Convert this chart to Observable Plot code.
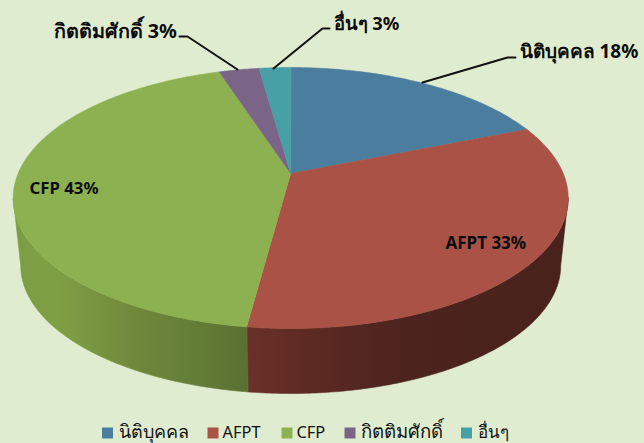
<!DOCTYPE html>
<html>
<head>
<meta charset="utf-8">
<script src="https://cdn.jsdelivr.net/npm/d3@7"></script>
<script src="https://cdn.jsdelivr.net/npm/@observablehq/plot@0.6"></script>
<style>
html,body{margin:0;padding:0;background:#e0ecd0;overflow:hidden}
svg{display:block}
</style>
</head>
<body>
<script>
const categories = ["นิติบุคคล", "AFPT", "CFP", "กิตติมศักดิ์", "อื่นๆ"];
const labelledPercent = [18, 33, 43, 3, 3];
const drawnShares = [18.9, 33.2, 42.9, 2.8, 2.2];
const topColors = ["#4b7d9e", "#a95245", "#8db150", "#7a6488", "#47a0a5"];
const legendSwatchX = [107, 212.5, 286.5, 349.5, 466];
const legendTextX = [118, 222, 296, 360, 477];
const legendFontSize = [18, 16.4, 16.4, 18.6, 17];
const labelX = [519, 445, 29, 53, 333];
const labelY = [51, 243, 188, 31, 24];
const labelFontSize = [19, 17, 16.8, 19.8, 18.4];
const leaders = [
  [[422, 82], [507, 57], [515, 57]],
  null,
  null,
  [[179, 36], [187, 36], [237, 69]],
  [[273, 68], [322, 28], [329, 28]]
];

const W = 644, H = 443;
const topE = {cx: 290.2, cy: 197.5, rx: 277.5, ry: 130.5};
const botE = {cx: 290.2, cy: 265, rx: 270, ry: 128};
const t = 0.188; // perspective shift of the pie's apex
const apex = E => [E.cx, E.cy - E.ry * t];

function project(E, a) {
  const u = Math.sin(a), v = Math.cos(a), w = 1 + t * v;
  return [E.cx + E.rx * u * Math.sqrt(1 - t * t) / w, E.cy - E.ry * (v + t) / w];
}
function arc(E, a0, a1) {
  const n = Math.max(2, Math.ceil(Math.abs(a1 - a0) * 90));
  return d3.range(n + 1).map(i => project(E, a0 + (a1 - a0) * i / n));
}
const total = d3.sum(drawnShares);
const cum = d3.cumsum(drawnShares);
const slices = categories.map((name, i) => ({
  name, color: topColors[i],
  a0: ((i ? cum[i - 1] : 0) / total) * 2 * Math.PI,
  a1: (cum[i] / total) * 2 * Math.PI
}));

const poly = (pts, fill) => Plot.line(pts, {x: d => d[0], y: d => d[1], fill, stroke: fill, strokeWidth: 0.6, curve: "linear-closed"});
const wallFill = ["#37576e", "url(#wallRed)", "url(#wallGreen)", "#54455f", "#317073"];

const defs = () => {
  const ns = "http://www.w3.org/2000/svg";
  const g = document.createElementNS(ns, "g");
  const d = document.createElementNS(ns, "defs");
  const mk = (id, x1, x2, stops) => {
    const lg = document.createElementNS(ns, "linearGradient");
    lg.setAttribute("id", id);
    lg.setAttribute("gradientUnits", "userSpaceOnUse");
    lg.setAttribute("x1", x1); lg.setAttribute("x2", x2);
    lg.setAttribute("y1", 0); lg.setAttribute("y2", 0);
    for (const [o, c] of stops) {
      const s = document.createElementNS(ns, "stop");
      s.setAttribute("offset", o); s.setAttribute("stop-color", c);
      lg.appendChild(s);
    }
    d.appendChild(lg);
  };
  mk("wallGreen", 13, 247, [[0, "#7d9d45"], [0.2, "#7f9f44"], [0.5, "#71893c"], [0.8, "#637c36"], [1, "#5a7030"]]);
  mk("wallRed", 247, 568, [[0, "#6b3029"], [0.2, "#5c2a23"], [0.5, "#4c231d"], [1, "#4a221c"]]);
  g.appendChild(d);
  return g;
};

// Only the front of the rim shows: it runs between the two points where the ellipse is widest.
const rimStart = Math.acos(-t), rimEnd = 2 * Math.PI - rimStart;
const walls = slices.flatMap((s, i) => {
  const a0 = Math.max(s.a0, rimStart), a1 = Math.min(s.a1, rimEnd);
  return a1 > a0 ? [poly([...arc(topE, a0, a1), ...arc(botE, a1, a0)], wallFill[i])] : [];
});
const tops = slices.map(s => poly([apex(topE), ...arc(topE, s.a0, s.a1)], s.color));

const labelRows = categories.map((name, i) => ({text: `${name} ${labelledPercent[i]}%`, x: labelX[i], y: labelY[i], size: labelFontSize[i]}));
const legendRows = categories.map((name, i) => ({name, sx: legendSwatchX[i], tx: legendTextX[i], color: topColors[i], size: legendFontSize[i]}));
const fontFamily = "Tahoma, 'Noto Sans', 'Open Sans', 'DejaVu Sans', sans-serif";

const chart = Plot.plot({
  width: W, height: H,
  margin: 0,
  style: {background: "#e0ecd0", fontFamily},
  x: {domain: [0, W], range: [0, W], axis: null},
  y: {domain: [0, H], range: [0, H], axis: null},
  marks: [
    defs,
    ...walls,
    ...tops,
    ...leaders.filter(Boolean).map(l => Plot.line(l, {x: d => d[0], y: d => d[1], stroke: "#111", strokeWidth: 2})),
    Plot.text(labelRows, {x: "x", y: "y", text: "text", textAnchor: "start", lineAnchor: "middle", fontSize: d => d.size, fontWeight: "bold", fill: "#0c0c0c"}),
    Plot.dot(legendRows, {x: "sx", y: () => 432.5, symbol: "square", r: 6.2, fill: "color", stroke: "none"}),
    Plot.text(legendRows, {x: "tx", y: () => 432, text: "name", textAnchor: "start", lineAnchor: "middle", fontSize: d => d.size, fill: "#111"})
  ],
  color: {type: "identity"}
});
document.body.appendChild(chart);
</script>
</body>
</html>
